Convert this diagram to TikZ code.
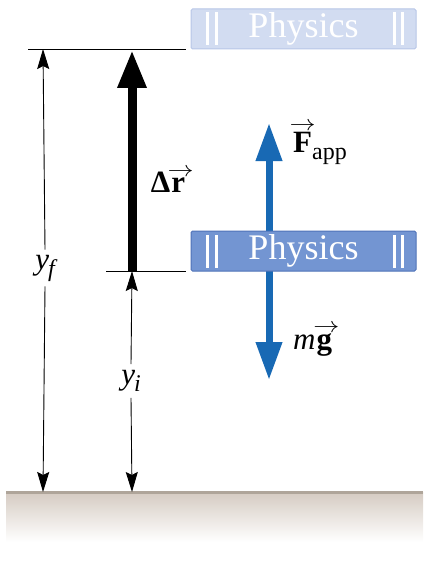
\RequirePackage{fix-cm}
\documentclass[tikz,border=0pt]{standalone}
\usepackage{fontspec}
\setmainfont{Liberation Serif}
\usetikzlibrary{arrows.meta,calc}
\definecolor{bookdark}{HTML}{7395D2}
\definecolor{bookdarkedge}{HTML}{4F72B8}
\definecolor{booklight}{HTML}{D2DCF1}
\definecolor{booklightedge}{HTML}{B7C6E7}
\definecolor{forceblue}{HTML}{1869B4}
\definecolor{groundline}{HTML}{AFA59A}
\definecolor{groundtop}{HTML}{D5CBC2}
\newcommand{\vecbold}[2][0pt]{\setbox0\hbox{\bfseries #2}%
  \hbox to \wd0{\hss\raisebox{\dimexpr\ht0+1pt\relax}[0pt][0pt]{\kern#1\scalebox{1.2}[1]{$\scriptstyle\rightarrow$}}\hss}%
  \kern-\wd0\box0}
\begin{document}
\begin{tikzpicture}[x=1pt,y=-1pt,
  thinarrow/.style={line width=0.9pt,-{Stealth[length=20pt,width=12pt,inset=3pt]}},
  guide/.style={line width=0.9pt},
  bigarrow/.style={line width=9pt,-{Triangle[length=38pt,width=27pt]}},
  forcearrow/.style={forceblue,line width=7pt,-{Triangle[length=38pt,width=25pt]}},
  book/.style={rectangle,rounded corners=1.5pt,line width=1pt,minimum width=225pt,minimum height=40pt,inner sep=0pt,text=white,font=\fontsize{36}{40}\selectfont},
  lbl/.style={font=\fontsize{31}{34}\selectfont,inner sep=2pt},
  bar/.style={fill=white,draw=none}
]
\useasboundingbox (0,0) rectangle (427,567);
% ground
\shade[top color=groundtop,bottom color=white] (6,492) rectangle (423,542);
\draw[groundline,line width=3pt] (6,492) -- (423,492);
% reference lines
\coordinate (topL) at (28,49);
\coordinate (topR) at (186,49);
\coordinate (midL) at (106,271);
\coordinate (midR) at (186,271);
\draw[guide] (topL) -- (topR);
\draw[guide] (midL) -- (midR);
% coordinates
\coordinate (ft) at (43,49);
\coordinate (gf) at (43,492);
\coordinate (it) at (132,271);
\coordinate (gi) at (132,492);
\coordinate (dtop) at (132,50);
% labels y_f, y_i
\node[lbl,inner ysep=5pt] (yf) at (45,268) {\itshape y\kern-1pt\raisebox{-7pt}{\fontsize{24}{26}\selectfont f}};
\node[lbl,inner ysep=6pt] (yi) at (131,381) {\itshape y\kern-1pt\raisebox{-7pt}{\fontsize{24}{26}\selectfont i}};
\draw[thinarrow] (yf.north) -- (ft);
\draw[thinarrow] (yf.south) -- (gf);
\draw[thinarrow] (yi.north) -- (it);
\draw[thinarrow] (yi.south) -- (gi);
% displacement
\draw[bigarrow] (it) -- (dtop);
\node[lbl] (dr) at (168,182) {\textbf{Δ}\kern1pt\vecbold[5pt]{r}};
% forces
\coordinate (fb) at (269,231);
\coordinate (ftip) at (269,123);
\coordinate (gb) at (269,270);
\coordinate (gtip) at (269,380);
\draw[forcearrow] (fb) -- (ftip);
\draw[forcearrow] (gb) -- (gtip);
\node[lbl,anchor=west] (Fapp) at (291,148) {\vecbold{F}\raisebox{-7pt}{\fontsize{24}{26}\selectfont app}};
\node[lbl,anchor=west] (mg) at (291,345) {\textit{m}\kern1pt\vecbold[4pt]{g}};
% books
\node[book,fill=booklight,draw=booklightedge] (b1) at (303.5,29) {Physics};
\node[book,fill=bookdark,draw=bookdarkedge] (b2) at (303.5,251) {Physics};
\foreach \b in {b1,b2}{
  \fill[bar] ($(\b.north west)+(15,4)$) rectangle ($(\b.south west)+(18.5,-4)$);
  \fill[bar] ($(\b.north west)+(24.5,4)$) rectangle ($(\b.south west)+(27.5,-4)$);
  \fill[bar] ($(\b.north east)+(-24,4)$) rectangle ($(\b.south east)+(-20.5,-4)$);
  \fill[bar] ($(\b.north east)+(-16,4)$) rectangle ($(\b.south east)+(-13,-4)$);
}
\end{tikzpicture}
\end{document}
